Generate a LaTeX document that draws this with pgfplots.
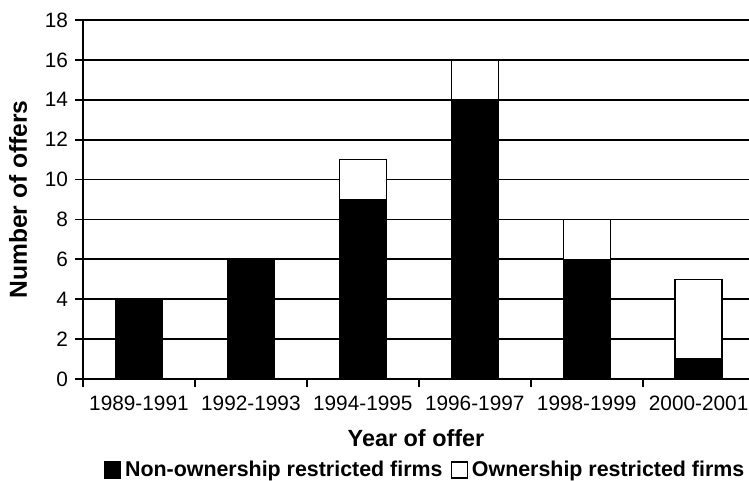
\documentclass[border=0pt]{standalone}
\usepackage{pgfplots}
\pgfplotsset{compat=1.18}
\usepackage{fontspec}
\setmainfont{Liberation Sans}
\begin{document}
\begin{tikzpicture}
\begin{axis}[
  name=ax,
  scale only axis,
  width=333pt, height=179.5pt,
  xmin=-0.5, xmax=5.45,
  ymin=0, ymax=18,
  ybar stacked,
  bar width=23.5pt,
  axis x line*=bottom, axis y line*=left,
  axis line style={line width=0.9pt, -},
  ytick={0,2,...,18},
  ymajorgrids,
  grid style={black, line width=0.9pt},
  xtick={-0.5,0.5,...,4.5},
  xticklabels={,,,,,},
  extra x ticks={0,1,2,3,4,5},
  extra x tick labels={1989-1991,1992-1993,1994-1995,1996-1997,1998-1999,2000-2001},
  extra x tick style={major tick length=0pt, grid=none},
  tick align=outside,
  major tick length=4pt,
  tick style={black, line width=0.9pt},
  /pgf/number format/assume math mode=true,
  tick label style={font=\fontsize{10.4}{12}\selectfont},
  xticklabel style={yshift=-5pt},
  ylabel={\bfseries Number of offers},
  xlabel={\bfseries Year of offer},
  every axis y label/.style={at={(axis description cs:-0.0976,0.5)}, rotate=90, anchor=center, font=\fontsize{12.3}{14}\selectfont},
  every axis x label/.style={at={(axis description cs:0.5,-0.1643)}, anchor=center, font=\fontsize{11.7}{14}\selectfont},
  legend style={at={(axis description cs:0.515,-0.2535)}, anchor=center, draw=none,
    legend columns=2, font=\fontsize{10.7}{13}\selectfont\bfseries, inner sep=0pt,
    /tikz/every even column/.append style={column sep=2pt}},
  legend image code/.code={\draw[#1, draw=black, line width=0.7pt] (0pt,-4pt) rectangle (8pt,4pt);},
]
\addplot[fill=black, draw=black, line width=0.7pt] coordinates {(0,4) (1,6) (2,9) (3,14) (4,6) (5,1)};
\addplot[fill=white, draw=black, line width=0.7pt] coordinates {(0,0) (1,0) (2,2) (3,2) (4,2) (5,4)};
\legend{Non-ownership restricted firms, Ownership restricted firms}
\end{axis}
\pgfresetboundingbox
\path[use as bounding box] ([xshift=-41.5pt,yshift=-51pt]ax.south west) rectangle ([yshift=10pt]ax.north east);
\end{tikzpicture}
\end{document}
